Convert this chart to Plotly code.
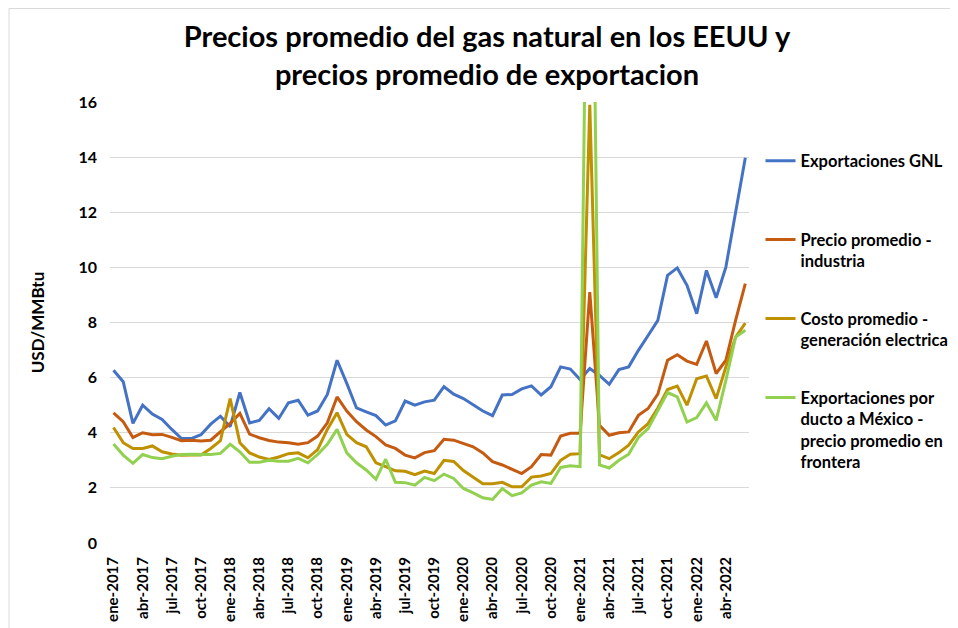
import plotly.graph_objects as go

meses = ['ene', 'feb', 'mar', 'abr', 'may', 'jun', 'jul', 'ago', 'sep', 'oct', 'nov', 'dic']
anios = [2017, 2018, 2019, 2020, 2021, 2022]
fechas = [f"{m}-{a}" for a in anios for m in meses][:66]  # ene-2017 .. jun-2022

exportaciones_gnl = [
    6.27, 5.85, 4.34, 5.00, 4.68, 4.48, 4.12, 3.79, 3.79, 3.93, 4.31, 4.60,
    4.22, 5.46, 4.36, 4.45, 4.87, 4.52, 5.09, 5.18, 4.64, 4.79, 5.39, 6.63,
    5.79, 4.90, 4.76, 4.62, 4.28, 4.43, 5.15, 5.00, 5.12, 5.18, 5.67, 5.40,
    5.24, 5.00, 4.79, 4.62, 5.37, 5.39, 5.59, 5.70, 5.37, 5.67, 6.39, 6.31,
    5.93, 6.33, 6.08, 5.76, 6.29, 6.39, 6.99, 7.53, 8.08, 9.71, 9.98, 9.35,
    8.32, 9.89, 8.90, 10.01, 12.00, 13.98]
precio_industria = [
    4.72, 4.40, 3.83, 4.00, 3.93, 3.94, 3.83, 3.71, 3.73, 3.70, 3.73, 4.04,
    4.34, 4.70, 3.95, 3.82, 3.72, 3.66, 3.64, 3.58, 3.64, 3.88, 4.36, 5.30,
    4.79, 4.40, 4.10, 3.86, 3.56, 3.43, 3.19, 3.09, 3.28, 3.35, 3.76, 3.73,
    3.61, 3.49, 3.27, 2.95, 2.83, 2.67, 2.52, 2.77, 3.21, 3.19, 3.88, 3.98,
    3.98, 9.10, 4.27, 3.91, 4.00, 4.03, 4.63, 4.88, 5.40, 6.63, 6.83, 6.60,
    6.48, 7.33, 6.15, 6.63, 8.08, 9.41]
costo_generacion = [
    4.19, 3.64, 3.43, 3.43, 3.52, 3.31, 3.23, 3.18, 3.19, 3.19, 3.43, 3.71,
    5.24, 3.64, 3.27, 3.12, 3.03, 3.12, 3.24, 3.27, 3.09, 3.39, 4.12, 4.73,
    3.94, 3.64, 3.49, 2.91, 2.77, 2.62, 2.60, 2.48, 2.61, 2.52, 3.00, 2.96,
    2.63, 2.39, 2.15, 2.15, 2.20, 2.04, 2.04, 2.39, 2.43, 2.52, 3.00, 3.22,
    3.24, 15.90, 3.20, 3.06, 3.28, 3.55, 4.03, 4.33, 4.90, 5.57, 5.69, 5.00,
    5.96, 6.06, 5.24, 6.39, 7.47, 7.98]
ducto_mexico = [
    3.59, 3.19, 2.89, 3.21, 3.10, 3.06, 3.15, 3.21, 3.22, 3.21, 3.21, 3.25,
    3.58, 3.31, 2.93, 2.93, 3.00, 2.97, 2.97, 3.07, 2.91, 3.21, 3.58, 4.12,
    3.27, 2.91, 2.65, 2.31, 3.04, 2.20, 2.19, 2.10, 2.38, 2.26, 2.50, 2.34,
    1.98, 1.82, 1.64, 1.58, 1.98, 1.72, 1.82, 2.10, 2.22, 2.16, 2.74, 2.80,
    2.77, 32.00, 2.83, 2.72, 3.00, 3.22, 3.83, 4.15, 4.79, 5.46, 5.30, 4.39,
    4.55, 5.08, 4.45, 5.90, 7.47, 7.72]

series = [
    ("Exportaciones GNL<br>\u00a0", exportaciones_gnl, "#4472C4"),
    ("Precio promedio -<br>industria", precio_industria, "#C55A11"),
    ("Costo promedio -<br>generación electrica", costo_generacion, "#BF9000"),
    ("Exportaciones por<br>ducto a México -<br>precio promedio en<br>frontera",
     ducto_mexico, "#92D050"),
]

fuente = "Lato"

fig = go.Figure()
for i, (nombre, valores, color) in enumerate(series):
    fig.add_trace(go.Scatter(
        x=fechas, y=valores, name=nombre, mode="lines",
        legendgroup=f"g{i}",
        line=dict(color=color, width=3),
    ))

# la pagina tiene 8px de margen en el body, por eso todo va 8px mas arriba/izquierda
fig.update_layout(
    width=958, height=628,
    margin=dict(l=102, r=215, t=94, b=93),
    paper_bgcolor="white", plot_bgcolor="white",
    font=dict(family=fuente, color="#000000", size=16, weight="bold"),
    title=dict(
        text="Precios promedio del gas natural en los EEUU y<br>precios promedio de exportacion",
        x=0.5, xanchor="center", y=0.938, yanchor="top",
        font=dict(family=fuente, size=29, weight="bold", color="#000000"),
    ),
    xaxis=dict(
        type="category", range=[-0.36, 65.38],
        tickmode="array", tickvals=fechas[::3], ticktext=fechas[::3],
        tickangle=-90, showgrid=False, showline=False, zeroline=False,
        ticks="", ticklabelstandoff=10,
        tickfont=dict(family=fuente, size=15, weight="bold"),
    ),
    yaxis=dict(
        range=[0, 16], dtick=2, showgrid=True, gridcolor="#D9D9D9",
        gridwidth=1, zeroline=False, showline=False, ticks="",
        ticklabelstandoff=12,
        tickfont=dict(family=fuente, size=16, weight="bold"),
        title=dict(text="USD/MMBtu", standoff=29,
                   font=dict(family=fuente, size=17, weight="bold")),
    ),
    legend=dict(
        x=1.018, xanchor="left", y=0.906, yanchor="top",
        valign="top", traceorder="grouped", tracegroupgap=33,
        font=dict(family=fuente, size=16.5, weight="bold"),
        bgcolor="rgba(0,0,0,0)",
    ),
    showlegend=True,
)

# borde del area del grafico
fig.add_shape(type="rect", xref="paper", yref="paper",
              x0=-0.158, x1=1.4, y0=-0.3, y1=1.212,
              line=dict(color="#D9D9D9", width=1), layer="below")

fig.write_html("out.html")
